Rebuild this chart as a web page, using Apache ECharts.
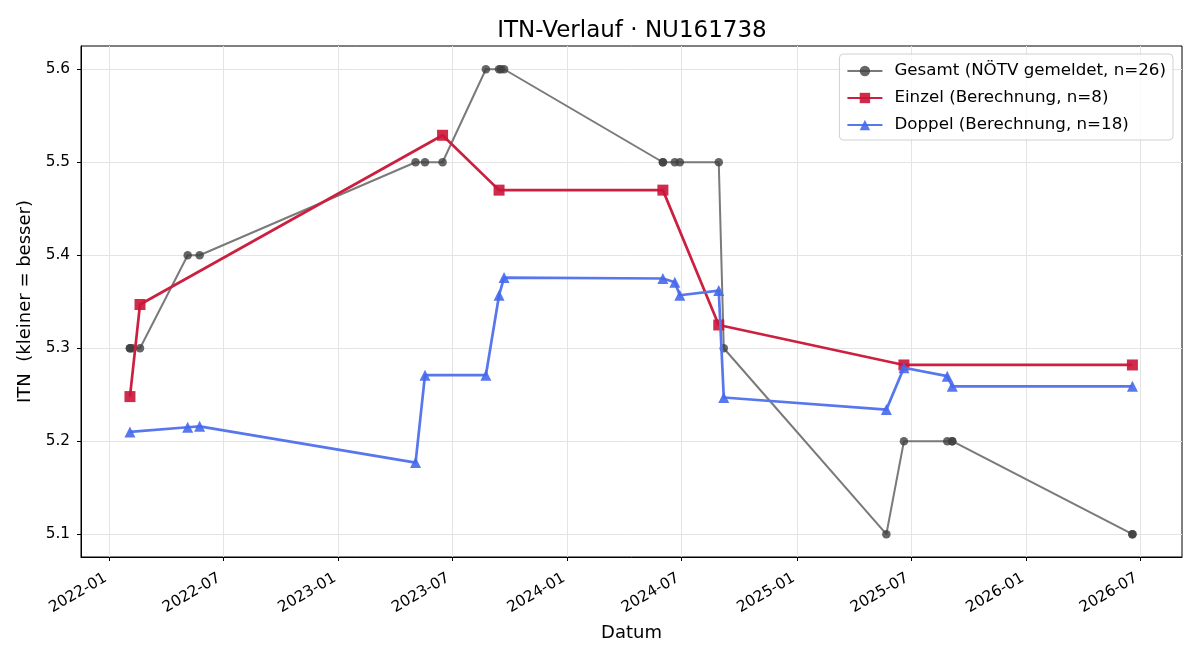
<!DOCTYPE html>
<html>
<head>
<meta charset="utf-8">
<script src="https://cdn.jsdelivr.net/npm/echarts@6/dist/echarts.min.js"></script>
<style>
  html, body { margin: 0; padding: 0; background: #fff; }
  #chart { width: 1200px; height: 660px; }
</style>
</head>
<body>
<div id="chart"></div>
<script>
// Gesamt (NÖTV gemeldet)
var gesamtDates = ['2022-02-03', '2022-02-03', '2022-02-07', '2022-02-19', '2022-05-06', '2022-05-25',
    '2023-05-04', '2023-05-19', '2023-06-16', '2023-08-24', '2023-09-14', '2023-09-17', '2023-09-22',
    '2024-06-01', '2024-06-01', '2024-06-20', '2024-06-28', '2024-08-29', '2024-09-06',
    '2025-05-23', '2025-06-20', '2025-08-28', '2025-09-05', '2025-09-05', '2026-06-19', '2026-06-19'];
var gesamtValues = [5.3, 5.3, 5.3, 5.3, 5.4, 5.4,
    5.5, 5.5, 5.5, 5.6, 5.6, 5.6, 5.6,
    5.5, 5.5, 5.5, 5.5, 5.5, 5.3,
    5.1, 5.2, 5.2, 5.2, 5.2, 5.1, 5.1];

// Einzel (Berechnung)
var einzelDates = ['2022-02-03', '2022-02-19', '2023-06-16', '2023-09-14', '2024-06-01', '2024-08-29', '2025-06-20', '2026-06-19'];
var einzelValues = [5.248, 5.347, 5.529, 5.470, 5.470, 5.325, 5.282, 5.282];

// Doppel (Berechnung)
var doppelDates = ['2022-02-03', '2022-05-06', '2022-05-25', '2023-05-04', '2023-05-19', '2023-08-24',
    '2023-09-14', '2023-09-22', '2024-06-01', '2024-06-20', '2024-06-28', '2024-08-29', '2024-09-06',
    '2025-05-23', '2025-06-20', '2025-08-28', '2025-09-05', '2026-06-19'];
var doppelValues = [5.210, 5.215, 5.216, 5.177, 5.271, 5.271,
    5.357, 5.376, 5.375, 5.371, 5.357, 5.362, 5.247,
    5.234, 5.279, 5.270, 5.259, 5.259];

var xTicks = ['2022-01-01', '2022-07-01', '2023-01-01', '2023-07-01', '2024-01-01', '2024-07-01',
    '2025-01-01', '2025-07-01', '2026-01-01', '2026-07-01'];
var yTicks = [5.1, 5.2, 5.3, 5.4, 5.5, 5.6];

function ts(s) {
    return Date.UTC(+s.slice(0, 4), +s.slice(5, 7) - 1, +s.slice(8, 10));
}
function pairs(dates, values) {
    return dates.map(function (d, i) { return [ts(d), values[i]]; });
}
function monthLabel(v) {
    var d = new Date(v);
    var m = d.getUTCMonth() + 1;
    return d.getUTCFullYear() + '-' + (m < 10 ? '0' + m : m);
}

var FONT = 'DejaVu Sans';
var chart = echarts.init(document.getElementById('chart'));

option = {
    animation: false,
    backgroundColor: '#fff',
    textStyle: { fontFamily: FONT },
    title: {
        text: 'ITN-Verlauf · NU161738',
        left: 627,
        textAlign: 'center',
        top: 15,
        textStyle: { fontFamily: FONT, fontSize: 23, fontWeight: 'normal', color: '#000' }
    },
    grid: {
        left: 81, right: 18, top: 46, bottom: 103,
        show: true, borderColor: '#000', borderWidth: 1
    },
    legend: {
        orient: 'vertical',
        right: 27,
        top: 54,
        padding: [7, 7, 5, 7],
        itemGap: 7,
        itemWidth: 35,
        itemHeight: 13,
        borderColor: '#d0d0d0',
        borderWidth: 1,
        borderRadius: 4,
        backgroundColor: 'rgba(255,255,255,0.8)',
        textStyle: { fontFamily: FONT, fontSize: 16.7, color: '#000', lineHeight: 20, padding: [0, 0, 0, 7] }
    },
    xAxis: {
        type: 'value',
        min: ts('2021-11-17'),
        max: ts('2026-09-06'),
        name: 'Datum',
        nameLocation: 'middle',
        nameGap: 67,
        nameTextStyle: { fontFamily: FONT, fontSize: 18, color: '#000' },
        axisLine: { show: true, onZero: false, lineStyle: { color: '#000', width: 1 } },
        axisTick: {
            show: true, length: 4, lineStyle: { color: '#000' },
            customValues: xTicks.map(ts)
        },
        axisLabel: {
            customValues: xTicks.map(ts),
            rotate: 30,
            margin: 18,
            padding: [0, 4, 0, 0],
            fontFamily: FONT, fontSize: 15.3, color: '#000',
            formatter: monthLabel
        },
        splitLine: { show: true, lineStyle: { color: '#e4e4e4', width: 1 } }
    },
    yAxis: {
        type: 'value',
        min: 5.0755,
        max: 5.625,
        name: 'ITN  (kleiner = besser)',
        nameLocation: 'middle',
        nameGap: 45,
        nameTextStyle: { fontFamily: FONT, fontSize: 18, color: '#000' },
        axisLine: { show: true, onZero: false, lineStyle: { color: '#000', width: 1 } },
        axisTick: {
            show: true, length: 4, lineStyle: { color: '#000' },
            customValues: yTicks
        },
        axisLabel: {
            customValues: yTicks,
            margin: 11,
            fontFamily: FONT, fontSize: 15.3, color: '#000',
            formatter: function (v) { return v.toFixed(1); }
        },
        splitLine: { show: true, lineStyle: { color: '#e4e4e4', width: 1 } }
    },
    series: [
        {
            name: 'Gesamt (NÖTV gemeldet, n=26)',
            type: 'line',
            data: pairs(gesamtDates, gesamtValues),
            symbol: 'circle',
            symbolSize: 8.5,
            showAllSymbol: true,
            z: 2,
            lineStyle: { color: '#7a7a7a', width: 2 },
            itemStyle: { color: 'rgba(64,64,64,0.8)', borderWidth: 0 }
        },
        {
            name: 'Einzel (Berechnung, n=8)',
            type: 'line',
            data: pairs(einzelDates, einzelValues),
            symbol: 'rect',
            symbolSize: 11,
            showAllSymbol: true,
            z: 3,
            lineStyle: { color: '#cc2040', width: 2.7 },
            itemStyle: { color: 'rgba(204,20,56,0.9)', borderWidth: 0 }
        },
        {
            name: 'Doppel (Berechnung, n=18)',
            type: 'line',
            data: pairs(doppelDates, doppelValues),
            symbol: 'triangle',
            symbolSize: 11,
            showAllSymbol: true,
            z: 4,
            lineStyle: { color: '#5876ee', width: 2.7 },
            itemStyle: { color: 'rgba(70,105,236,0.9)', borderWidth: 0 }
        }
    ]
};
chart.setOption(option);
</script>
</body>
</html>
